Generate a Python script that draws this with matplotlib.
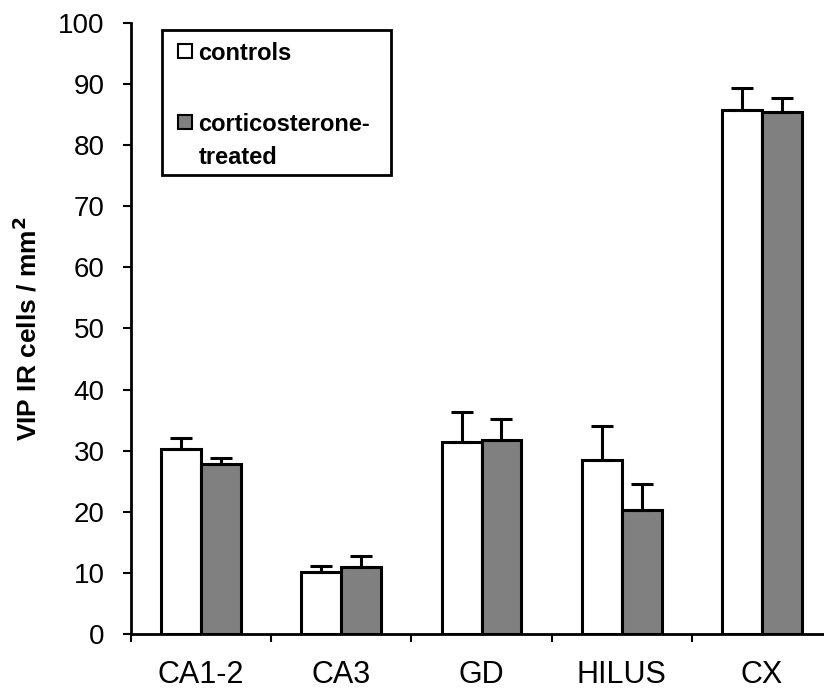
import numpy as np
import matplotlib
matplotlib.use("Agg")
import matplotlib.pyplot as plt
from matplotlib.patches import Rectangle

plt.rcParams['font.family'] = ['Liberation Sans', 'DejaVu Sans']

# data
regions = ['CA1-2', 'CA3', 'GD', 'HILUS', 'CX']
controls = [30.3, 10.2, 31.4, 28.4, 85.7]
controls_err = [1.7, 0.9, 4.9, 5.7, 3.6]
treated = [27.9, 10.9, 31.7, 20.3, 85.4]
treated_err = [0.9, 1.8, 3.5, 4.3, 2.4]
yticks = [0, 10, 20, 30, 40, 50, 60, 70, 80, 90, 100]
series_names = [['controls'], ['corticosterone-', 'treated']]
series_colors = ['white', '#808080']

fig = plt.figure(figsize=(8.24, 6.93), dpi=100)
ax = fig.add_axes([131 / 824, 59 / 693, 701 / 824, 611 / 693])

x = np.arange(len(regions)) + 0.5
w = 0.284
err_kw = dict(ecolor='black', elinewidth=2.2, capsize=8, capthick=2.2)
zeros = np.zeros(len(regions))

ax.bar(x - w / 2, controls, w, color=series_colors[0], edgecolor='black', linewidth=2.2,
       yerr=[zeros, controls_err], error_kw=err_kw)
ax.bar(x + w / 2, treated, w, color=series_colors[1], edgecolor='black', linewidth=2.2,
       yerr=[zeros, treated_err], error_kw=err_kw)

ax.set_xlim(0, len(regions))
ax.set_ylim(0, 100)
ax.set_yticks(yticks)
ax.set_xticks(np.arange(len(regions) + 1))
ax.set_xticklabels([])
ax.set_xticks(x, minor=True)
ax.set_xticklabels(regions, minor=True)
ax.tick_params(axis='x', which='major', direction='out', length=6, width=1.5)
ax.tick_params(axis='x', which='minor', length=0, pad=19, labelsize=22)
ax.tick_params(axis='y', direction='out', length=6, width=1.5, pad=13, labelsize=20)

for s in ['top', 'right']:
    ax.spines[s].set_visible(False)
for s in ['left', 'bottom']:
    ax.spines[s].set_linewidth(2)

ax.set_ylabel('VIP IR cells / mm$^\\mathbf{2}$', fontsize=19, fontweight='bold')
ax.yaxis.set_label_coords(-0.128, 0.5)

# legend box drawn by hand so the square sits on the first line of the 2-line label
ax.add_patch(Rectangle((0.044, 0.751), 0.327, 0.2375, transform=ax.transAxes,
                       facecolor='white', edgecolor='black', linewidth=2,
                       clip_on=False, zorder=5))
for i, (lines, col) in enumerate(zip(series_names, series_colors)):
    yb = 0.9395 - i * 0.1155
    ax.add_patch(Rectangle((0.067, yb + 0.003), 0.02, 0.0229, transform=ax.transAxes,
                           facecolor=col, edgecolor='black', linewidth=1.5,
                           clip_on=False, zorder=6))
    for j, line in enumerate(lines):
        ax.text(0.096, yb - j * 0.054, line, transform=ax.transAxes, fontsize=17,
                fontweight='bold', va='baseline', ha='left', zorder=7)

fig.savefig('out.png', dpi=100)
